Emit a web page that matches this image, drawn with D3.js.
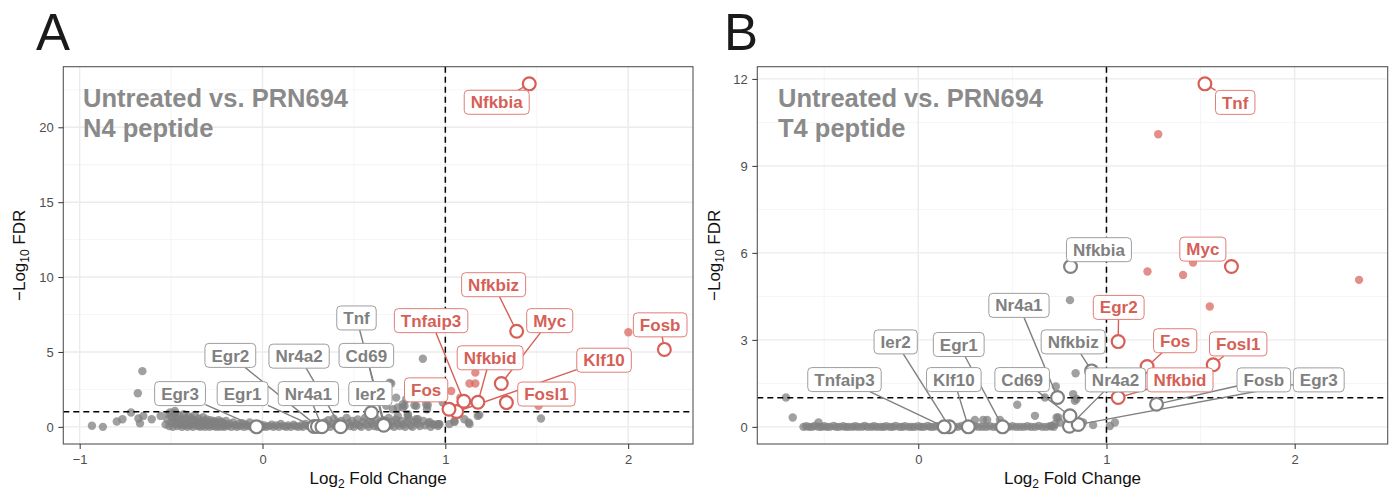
<!DOCTYPE html>
<html><head><meta charset="utf-8">
<script src="https://cdn.jsdelivr.net/npm/d3@7"></script>
<style>
body{margin:0;background:#fff}
svg{display:block}
text{font-family:"Liberation Sans",Arial,Helvetica,sans-serif}
</style>
</head><body>
<svg id="c" width="1393" height="493"></svg>
<script>
// ---------------- DATA ----------------
// Panel A: Untreated vs. PRN694, N4 peptide
const genesA = ["Nfkbia","Nfkbiz","Myc","Fosb","Klf10","Fosl1","Nfkbid","Tnfaip3","Fos","Egr3","Egr1","Egr2","Nr4a1","Nr4a2","Tnf","Cd69","Ier2"];
const lfcA   = [1.459,1.390,1.306,2.198,1.062,1.334,1.178,1.101,1.020,-0.033,0.282,0.300,0.325,0.427,0.668,0.663,0.595];
const fdrA   = [22.9,6.38,2.89,5.17,1.02,1.62,1.64,1.71,1.18,0.0,0.02,0.03,0.01,0.01,0.18,0.11,0.94];
const labelPosA = {Nfkbia:[1.281,21.67],Nfkbiz:[1.264,9.49],Myc:[1.571,7.09],Fosb:[2.175,6.81],Klf10:[1.868,4.45],
  Fosl1:[1.553,2.19],Nfkbid:[1.245,4.61],Tnfaip3:[0.922,7.09],Fos:[0.895,2.47],Egr3:[-0.451,2.22],Egr1:[-0.109,2.22],
  Egr2:[-0.176,4.77],Nr4a1:[0.251,2.22],Nr4a2:[0.2,4.72],Tnf:[0.514,7.27],Cd69:[0.568,4.77],Ier2:[0.59,2.22]};
// unlabeled significant genes (A)
const redA = [[1.032,2.39],[1.164,3.62],[1.132,2.89],[1.164,2.89],[2.001,6.32],[1.51,1.40],[1.082,1.95]];
// unlabeled background genes (A)
const greyA = [
 [-0.933,0.07],[-0.873,0.0],[-0.797,0.36],[-0.766,0.51],[-0.719,0.96],[-0.682,2.24],[-0.657,3.72],[-0.679,0.56],[-0.67,0.23],
 [-0.652,0.73],[-0.606,0.51],[-0.557,0.73],[-0.506,0.96],[-0.479,1.06],
 [-0.53,0.15],[-0.52,0.5],[-0.515,0.85],[-0.51,0.05],[-0.50,0.3],[-0.495,0.65],[-0.49,0.0],[-0.485,0.45],[-0.48,0.9],[-0.475,0.2],
 [-0.47,0.6],[-0.465,0.05],[-0.46,0.35],[-0.455,0.75],[-0.45,0.15],[-0.445,0.5],[-0.44,0.0],[-0.435,0.3],[-0.43,0.85],[-0.425,0.1],
 [-0.42,0.55],[-0.415,0.25],[-0.41,0.0],[-0.405,0.7],[-0.40,0.4],[-0.395,0.1],[-0.39,0.6],[-0.385,0.2],[-0.38,0.0],[-0.375,0.45],
 [-0.37,0.8],[-0.365,0.15],[-0.36,0.35],[-0.355,0.05],[-0.35,0.55],[-0.345,0.25],[-0.34,0.0],[-0.335,0.4],[-0.33,0.1],[-0.325,0.65],
 [-0.32,0.2],[-0.315,0.0],[-0.31,0.35],[-0.305,0.5],[-0.30,0.1],[-0.295,0.25],[-0.29,0.0],[-0.285,0.45],[-0.28,0.15],[-0.275,0.3],
 [-0.27,0.05],[-0.265,0.4],[-0.26,0.2],[-0.255,0.0],[-0.25,0.3],[-0.245,0.1],[-0.24,0.45],[-0.235,0.0],[-0.23,0.2],[-0.225,0.35],
 [-0.22,0.05],[-0.215,0.25],[-0.21,0.0],[-0.205,0.15],[-0.20,0.4],[-0.19,0.05],[-0.18,0.2],[-0.17,0.0],[-0.16,0.3],[-0.15,0.1],
 [-0.14,0.0],[-0.13,0.2],[-0.12,0.05],[-0.11,0.25],[-0.10,0.0],[-0.09,0.15],[-0.08,0.05],[-0.07,0.3],[-0.06,0.0],[-0.05,0.1],
 [-0.04,0.2],[-0.03,0.0],[-0.02,0.05],[-0.01,0.15],[0.0,0.0],[0.01,0.1],[0.02,0.0],[0.035,0.05],[0.05,0.15],[0.06,0.0],[0.075,0.1],
 [0.09,0.0],[0.10,0.2],[0.115,0.05],[0.13,0.0],[0.14,0.1],[0.155,0.0],[0.17,0.15],[0.18,0.05],[0.195,0.0],[0.21,0.1],[0.22,0.0],
 [0.235,0.2],[0.25,0.05],[0.26,0.0],[0.275,0.1],[0.29,0.0],[0.30,0.15],[0.315,0.05],
 [0.33,0.0],[0.34,0.3],[0.35,0.1],[0.36,0.45],[0.37,0.0],[0.38,0.2],[0.39,0.55],[0.40,0.05],[0.41,0.3],[0.42,0.0],[0.43,0.4],
 [0.44,0.15],[0.45,0.0],[0.46,0.6],[0.47,0.25],[0.48,0.05],[0.49,0.4],[0.50,0.0],[0.51,0.2],[0.52,0.5],[0.53,0.1],[0.54,0.0],
 [0.55,0.35],[0.56,0.6],[0.57,0.15],[0.58,0.0],[0.59,0.4],[0.60,0.25],[0.61,0.05],[0.62,0.55],[0.63,0.0],[0.64,0.3],[0.65,0.15],
 [0.66,0.45],[0.67,0.0],[0.68,0.25],[0.69,0.6],[0.70,0.1],[0.71,0.35],[0.72,0.0],[0.73,0.5],[0.74,0.2],[0.75,0.05],[0.76,0.4],
 [0.77,0.15],[0.78,0.0],[0.79,0.3],[0.80,0.55],[0.81,0.1],[0.82,0.0],[0.83,0.35],[0.85,0.2],[0.86,0.05],[0.88,0.4],[0.89,0.1],
 [0.91,0.25],[0.92,0.0],[0.94,0.15],[0.96,0.05],
 [0.704,2.9],[0.877,4.55],[0.74,1.29],[0.777,1.4],[0.841,1.4],[0.731,1.95],[0.9,1.18],[0.968,0.18],[0.795,0.73],[0.84,0.51],
 [0.713,1.18],[0.677,1.4],[0.768,1.29],[0.831,1.44],[0.904,1.44],[0.795,0.84],[0.931,0.18],[0.964,0.18],[1.022,0.18],[1.05,0.33],
 [1.104,0.51],[1.132,0.18],[1.186,0.8],[0.986,1.62],[0.786,1.84],[0.695,2.95],[0.768,1.51],[0.895,1.51],[0.74,0.73],[0.85,0.51],
 [0.913,0.33],[0.959,0.18],[1.05,0.4],[1.128,0.29],[1.177,0.73],[1.523,0.56]
];

// Panel B: Untreated vs. PRN694, T4 peptide
const genesB = ["Tnf","Nfkbia","Myc","Egr2","Fos","Fosl1","Nfkbid","Nr4a2","Fosb","Egr3","Nfkbiz","Nr4a1","Cd69","Klf10","Egr1","Ier2","Tnfaip3"];
const lfcB   = [1.523,0.809,1.664,1.062,1.216,1.567,1.062,0.803,1.266,0.85,0.921,0.740,0.806,0.266,0.448,0.165,0.138];
const fdrB   = [11.83,5.53,5.53,2.94,2.08,2.14,1.01,0.02,0.78,0.08,1.93,1.01,0.38,0.0,0.0,0.0,0.0];
const labelPosB = {Tnf:[1.684,11.19],Nfkbia:[0.96,6.11],Myc:[1.512,6.13],Egr2:[1.065,4.12],Fos:[1.365,2.97],Fosl1:[1.70,2.86],
  Nfkbid:[1.391,1.62],Nr4a2:[1.048,1.62],Fosb:[1.836,1.62],Egr3:[2.128,1.62],Nfkbiz:[0.823,2.93],Nr4a1:[0.535,4.19],
  Cd69:[0.552,1.63],Klf10:[0.189,1.63],Egr1:[0.215,2.84],Ier2:[-0.12,2.93],Tnfaip3:[-0.392,1.63]};
const redB = [[1.275,10.09],[1.218,5.36],[1.407,5.24],[1.46,5.67],[2.342,5.07],[1.549,4.15]];
const greyB = [
 [-0.703,1.01],[-0.667,0.32],[-0.53,0.15],
 [-0.61,0.0],[-0.595,0.02],[-0.58,0.0],[-0.565,0.0],[-0.55,0.03],[-0.53,0.0],[-0.515,0.0],[-0.50,0.02],[-0.485,0.0],[-0.47,0.0],
 [-0.45,0.03],[-0.435,0.0],[-0.42,0.0],[-0.40,0.02],[-0.385,0.0],[-0.37,0.0],[-0.35,0.0],[-0.335,0.02],[-0.32,0.0],[-0.30,0.0],
 [-0.285,0.03],[-0.27,0.0],[-0.25,0.0],[-0.235,0.02],[-0.22,0.0],[-0.20,0.0],[-0.185,0.0],[-0.17,0.02],[-0.15,0.0],[-0.135,0.0],
 [-0.12,0.03],[-0.10,0.0],[-0.085,0.0],[-0.07,0.02],[-0.05,0.0],[-0.035,0.0],[-0.02,0.0],[0.0,0.02],[0.015,0.0],[0.03,0.0],
 [0.05,0.03],[0.065,0.0],[0.08,0.0],[0.10,0.02],[0.115,0.0],[0.13,0.0],[0.15,0.0],[0.17,0.02],[0.19,0.0],[0.21,0.0],[0.23,0.03],
 [0.25,0.0],[0.28,0.0],[0.30,0.02],[0.32,0.0],[0.34,0.0],[0.36,0.0],[0.38,0.02],[0.40,0.0],[0.42,0.0],[0.44,0.03],[0.46,0.0],
 [0.48,0.0],[0.50,0.02],[0.52,0.0],[0.54,0.0],[0.56,0.0],[0.58,0.02],[0.60,0.0],[0.62,0.0],[0.64,0.03],[0.66,0.0],[0.68,0.0],
 [0.70,0.02],[0.72,0.0],
 [0.301,0.24],[0.345,0.24],[0.366,0.24],[0.434,0.24],[0.526,0.76],[0.62,0.38],[0.673,1.01],[0.731,1.39],[0.823,1.13],
 [0.836,1.85],[0.841,0.96],[0.744,0.32],[0.726,0.09],[0.806,4.37],[0.832,0.9],[0.735,0.32],[0.753,0.15],[0.708,0.03],
 [0.929,0.06],[0.876,0.15],[1.018,0.03],[1.045,0.15]
];

// Axis ticks
const ticksAx = [-1,0,1,2], ticksAy = [0,5,10,15,20];
const ticksBx = [0,1,2],   ticksBy = [0,3,6,9,12];
const thresholdLFC = 1, thresholdFDR = 1;

// ---------------- DRAW ----------------
const RED = "#d65f57", GREY = "#808080";
const svg = d3.select("#c");

function drawPanel(cfg){
  const g = svg.append("g");
  const allX = cfg.grey.map(d=>d[0]).concat(cfg.red.map(d=>d[0]), cfg.lfc);
  const allY = cfg.grey.map(d=>d[1]).concat(cfg.red.map(d=>d[1]), cfg.fdr);
  const [x0,x1] = d3.extent(allX), [y0,y1] = d3.extent(allY);
  const ex = (x1-x0)*0.05, ey = (y1-y0)*0.05;
  const x = d3.scaleLinear().domain([x0-ex, x1+ex]).range(cfg.xr);
  const y = d3.scaleLinear().domain([y0-ey, y1+ey]).range([444, 66.7]);
  const [L,R] = cfg.xr, T = 66.7, B = 444;

  // minor grid
  const minor = (ticks, dom) => {
    const st = ticks[1]-ticks[0], out = [];
    for (let i=-1;i<ticks.length;i++){ const v = ticks[0]+st*(i+0.5); if (v>dom[0] && v<dom[1]) out.push(v); }
    return out;
  };
  g.selectAll(".mx").data(minor(cfg.xt, x.domain())).join("line")
    .attr("x1",d=>x(d)).attr("x2",d=>x(d)).attr("y1",T).attr("y2",B).attr("stroke","#f2f2f2").attr("stroke-width",0.8);
  g.selectAll(".my").data(minor(cfg.yt, y.domain())).join("line")
    .attr("y1",d=>y(d)).attr("y2",d=>y(d)).attr("x1",L).attr("x2",R).attr("stroke","#f2f2f2").attr("stroke-width",0.8);
  g.selectAll(".gx").data(cfg.xt).join("line")
    .attr("x1",d=>x(d)).attr("x2",d=>x(d)).attr("y1",T).attr("y2",B).attr("stroke","#ebebeb").attr("stroke-width",1.4);
  g.selectAll(".gy").data(cfg.yt).join("line")
    .attr("y1",d=>y(d)).attr("y2",d=>y(d)).attr("x1",L).attr("x2",R).attr("stroke","#ebebeb").attr("stroke-width",1.4);

  // background points
  g.append("g").selectAll("circle").data(cfg.grey).join("circle")
    .attr("cx",d=>x(d[0])).attr("cy",d=>y(d[1])).attr("r",4.2).attr("fill",GREY).attr("fill-opacity",0.75);
  g.append("g").selectAll("circle").data(cfg.red).join("circle")
    .attr("cx",d=>x(d[0])).attr("cy",d=>y(d[1])).attr("r",4.2).attr("fill",RED).attr("fill-opacity",0.7);

  // threshold lines
  g.append("line").attr("x1",x(thresholdLFC)).attr("x2",x(thresholdLFC)).attr("y1",T).attr("y2",B)
    .attr("stroke","#000").attr("stroke-width",1.5).attr("stroke-dasharray","6,4");
  g.append("line").attr("y1",y(thresholdFDR)).attr("y2",y(thresholdFDR)).attr("x1",L).attr("x2",R)
    .attr("stroke","#000").attr("stroke-width",1.5).attr("stroke-dasharray","6,4");

  // labeled genes
  const genes = cfg.genes.map((n,i)=>({name:n, lfc:cfg.lfc[i], fdr:cfg.fdr[i],
      sig: cfg.lfc[i]>thresholdLFC && cfg.fdr[i]>thresholdFDR, pos: cfg.labels[n]}));
  const segG = g.append("g"), circG = g.append("g"), labG = g.append("g");
  genes.forEach(d=>{
    const col = d.sig ? RED : GREY;
    const px = x(d.lfc), py = y(d.fdr);
    circG.append("circle").attr("cx",px).attr("cy",py).attr("r",6.4)
      .attr("fill","#fff").attr("stroke",col).attr("stroke-width",2.2);
    const cx = x(d.pos[0]), cy = y(d.pos[1]);
    const lg = labG.append("g");
    const rect = lg.append("rect");
    const t = lg.append("text").attr("x",cx).attr("y",cy+6.1).attr("text-anchor","middle")
      .attr("font-size",17).attr("font-weight","bold").attr("fill",col).text(d.name);
    const w = t.node().getComputedTextLength() + 13, h = 24;
    rect.attr("x",cx-w/2).attr("y",cy-h/2).attr("width",w).attr("height",h).attr("rx",4)
      .attr("fill","#fff").attr("stroke", d.sig ? "#e07e78" : "#9e9e9e").attr("stroke-width",1);
    // segment
    const dx = px-cx, dy = py-cy, len = Math.hypot(dx,dy);
    const tb = Math.min(Math.abs(dx)>1e-6 ? (w/2)/Math.abs(dx) : Infinity, Math.abs(dy)>1e-6 ? (h/2)/Math.abs(dy) : Infinity);
    if (tb < 1){
      const sx = cx+dx*tb, sy = cy+dy*tb;
      const ex2 = px - dx/len*6.4, ey2 = py - dy/len*6.4;
      if (Math.hypot(ex2-sx, ey2-sy) > 6 && (ex2-sx)*dx + (ey2-sy)*dy > 0){
        segG.append("line").attr("x1",sx).attr("y1",sy).attr("x2",ex2).attr("y2",ey2)
          .attr("stroke",col).attr("stroke-width",1.4);
      }
    }
  });

  // border
  g.append("rect").attr("x",L).attr("y",T).attr("width",R-L).attr("height",B-T)
    .attr("fill","none").attr("stroke","#555").attr("stroke-width",1.1);

  // axes
  const fmt = d3.format("~g");
  const ax = g.append("g").attr("transform",`translate(0,${B})`)
    .call(d3.axisBottom(x).tickValues(cfg.xt).tickFormat(fmt).tickSize(5).tickPadding(6));
  const ay = g.append("g").attr("transform",`translate(${L},0)`)
    .call(d3.axisLeft(y).tickValues(cfg.yt).tickFormat(fmt).tickSize(5).tickPadding(4.5));
  [ax,ay].forEach(a=>{
    a.select(".domain").remove();
    a.selectAll(".tick line").attr("stroke","#333").attr("stroke-width",1);
    a.selectAll(".tick text").attr("fill","#4d4d4d").attr("font-size",13)
      .attr("font-family","'Liberation Sans',Arial,sans-serif");
  });

  // axis titles
  const xt = g.append("text").attr("x",(L+R)/2).attr("y",484).attr("text-anchor","middle")
    .attr("font-size",17).attr("fill","#111");
  xt.append("tspan").text("Log");
  xt.append("tspan").attr("font-size",12).attr("dy",4).text("2");
  xt.append("tspan").attr("dy",-4).text(" Fold Change");

  const yt = g.append("text").attr("transform",`translate(${cfg.yTitleX},${(T+B)/2}) rotate(-90)`)
    .attr("text-anchor","middle").attr("font-size",17).attr("fill","#111");
  yt.append("tspan").text("\u2212Log");
  yt.append("tspan").attr("font-size",12).attr("dy",4).text("10");
  yt.append("tspan").attr("dy",-4).text(" FDR");

  // in-plot title
  const tt = g.append("text").attr("font-size",25.5).attr("font-weight","bold").attr("fill","#8a8a8a");
  tt.append("tspan").attr("x",cfg.titleX).attr("y",107).text(cfg.title1);
  tt.append("tspan").attr("x",cfg.titleX).attr("y",137).text(cfg.title2);

  // panel letter
  g.append("text").attr("x",cfg.letterX).attr("y",50).attr("font-size",51).attr("fill","#1a1a1a").text(cfg.letter);
}

drawPanel({xr:[63.3,693], grey:greyA, red:redA, genes:genesA, lfc:lfcA, fdr:fdrA, labels:labelPosA,
  xt:ticksAx, yt:ticksAy, title1:"Untreated vs. PRN694", title2:"N4 peptide", titleX:83, letter:"A", letterX:36, yTitleX:25});
drawPanel({xr:[757.3,1387.7], grey:greyB, red:redB, genes:genesB, lfc:lfcB, fdr:fdrB, labels:labelPosB,
  xt:ticksBx, yt:ticksBy, title1:"Untreated vs. PRN694", title2:"T4 peptide", titleX:778, letter:"B", letterX:724, yTitleX:720});
</script>
</body></html>
